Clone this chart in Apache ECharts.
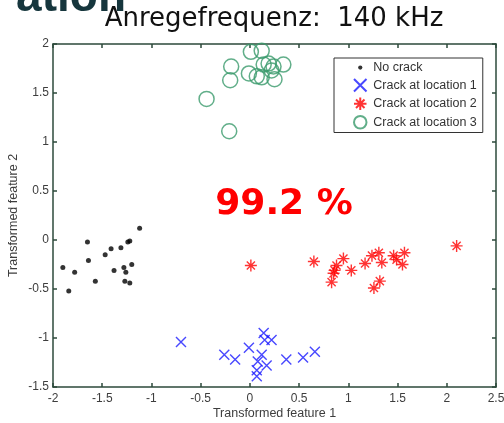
<!DOCTYPE html>
<html>
<head>
<meta charset="utf-8">
<script src="https://cdn.jsdelivr.net/npm/echarts@6/dist/echarts.min.js"></script>
<style>html,body{margin:0;padding:0;background:#fff;}#c{width:504px;height:423px;}</style>
</head>
<body>
<div id="c"></div>
<script>
// Data
const seriesNames = ['No crack', 'Crack at location 1', 'Crack at location 2', 'Crack at location 3'];
const noCrack = [
  [-1.12, 0.12], [-1.65, -0.02], [-1.22, -0.01], [-1.24, -0.02], [-1.41, -0.09],
  [-1.31, -0.08], [-1.47, -0.15], [-1.64, -0.21], [-1.90, -0.28], [-1.78, -0.33],
  [-1.38, -0.31], [-1.28, -0.28], [-1.26, -0.33], [-1.20, -0.25], [-1.57, -0.42],
  [-1.27, -0.42], [-1.22, -0.44], [-1.84, -0.52]
];
const crack1 = [
  [-0.70, -1.04], [-0.26, -1.17], [-0.15, -1.22], [-0.01, -1.10], [0.14, -0.95],
  [0.15, -1.02], [0.22, -1.02], [0.12, -1.17], [0.08, -1.24], [0.17, -1.28],
  [0.07, -1.33], [0.07, -1.39], [0.37, -1.22], [0.54, -1.20], [0.66, -1.14]
];
const crack2 = [
  [0.01, -0.26], [0.65, -0.22], [0.95, -0.19], [0.88, -0.26], [0.86, -0.31],
  [0.85, -0.34], [0.83, -0.43], [1.03, -0.31], [1.17, -0.24], [1.24, -0.16],
  [1.31, -0.13], [1.34, -0.23], [1.32, -0.42], [1.26, -0.49], [1.46, -0.16],
  [1.49, -0.20], [1.57, -0.13], [1.55, -0.25], [2.10, -0.06]
];
const crack3 = [
  [0.01, 1.92], [0.12, 1.93], [-0.19, 1.77], [-0.20, 1.63], [-0.44, 1.44],
  [-0.21, 1.11], [-0.01, 1.70], [0.07, 1.67], [0.12, 1.66], [0.14, 1.79],
  [0.19, 1.80], [0.24, 1.77], [0.34, 1.79], [0.25, 1.64], [0.22, 1.73]
];
const xRange = [-2, 2.5];
const yRange = [-1.5, 2];
const tickStep = 0.5;
const titleText = 'Anregefrequenz:  140 kHz';
const accuracyText = '99.2 %';
const axisNames = ['Transformed feature 1', 'Transformed feature 2'];

const axisColor = '#2c4a3b';
const labelColor = '#3d3d3d';
const crossPath = 'path://M0,0L10,10M10,0L0,10';
const starPath = 'path://M5,0L5,10M0,5L10,5M1.6,1.6L8.4,8.4M8.4,1.6L1.6,8.4';
const dotIcon = 'path://M0,0M10,10M3.3,5a1.7,1.7 0 1,0 3.4,0a1.7,1.7 0 1,0 -3.4,0Z';

const chart = echarts.init(document.getElementById('c'), null, {renderer: 'canvas'});
const mkAxis = (pos, range, show, name) => ({
  type: 'value', position: pos, min: range[0], max: range[1], interval: tickStep,
  name: name || '', nameLocation: 'middle', nameMoveOverlap: false,
  nameGap: pos === 'bottom' ? 20 : 33,
  nameTextStyle: {fontFamily: 'Liberation Sans', fontSize: 12.5, color: labelColor},
  axisLine: {show: true, onZero: false, lineStyle: {color: axisColor, width: 1.5}},
  axisTick: {show: true, inside: true, length: 4, lineStyle: {color: axisColor, width: 1.5}},
  axisLabel: {show: show, showMinLabel: true, showMaxLabel: true, hideOverlap: false,
    fontFamily: 'Liberation Sans', fontSize: 12, color: labelColor,
    margin: pos === 'bottom' ? 6 : 4},
  splitLine: {show: false}
});

chart.setOption({
  animation: false,
  backgroundColor: '#fff',
  grid: {left: 53, right: 8, top: 44, bottom: 36, containLabel: false, outerBoundsMode: 'none'},
  graphic: [
    {type: 'text', x: 126, y: -25, silent: true,
     style: {text: 'ation', fill: '#16363d', font: 'bold 46px "Liberation Sans"',
       align: 'right'}},
    {type: 'text', x: 274, y: 6, silent: true,
     style: {text: titleText, fill: '#111', font: '26px "DejaVu Sans"',
       align: 'center'}},
    {type: 'text', x: 284, y: 205, silent: true,
     style: {text: accuracyText, fill: '#ff0000', font: 'bold 36px "DejaVu Sans"',
       align: 'center', verticalAlign: 'middle'}}
  ],
  legend: {
    orient: 'vertical', left: 334, top: 58,
    backgroundColor: '#fff', borderColor: '#333', borderWidth: 1,
    padding: [3, 6, 3, 19], itemGap: 4, itemWidth: 16, itemHeight: 12.5, itemTextGap: 7,
    textStyle: {fontFamily: 'Liberation Sans', fontSize: 12.5, color: '#333'},
    data: [
      {name: seriesNames[0], icon: dotIcon},
      {name: seriesNames[1]},
      {name: seriesNames[2]},
      {name: seriesNames[3]}
    ]
  },
  xAxis: [mkAxis('bottom', xRange, true, axisNames[0]), mkAxis('top', xRange, false)],
  yAxis: [mkAxis('left', yRange, true, axisNames[1]), mkAxis('right', yRange, false)],
  series: [
    {name: seriesNames[0], type: 'scatter', data: noCrack, symbol: 'circle', symbolSize: 5,
     itemStyle: {color: '#000'}},
    {name: seriesNames[1], type: 'scatter', data: crack1, symbol: crossPath, symbolSize: 10,
     itemStyle: {color: 'transparent', borderColor: '#1a1aff', borderWidth: 1.4}},
    {name: seriesNames[2], type: 'scatter', data: crack2, symbol: starPath, symbolSize: 12,
     itemStyle: {color: 'transparent', borderColor: '#ff0000', borderWidth: 1.4}},
    {name: seriesNames[3], type: 'scatter', data: crack3, symbol: 'circle', symbolSize: 15,
     itemStyle: {color: 'transparent', borderColor: '#3a9a6b', borderWidth: 1.5}}
  ]
});
</script>
</body>
</html>
